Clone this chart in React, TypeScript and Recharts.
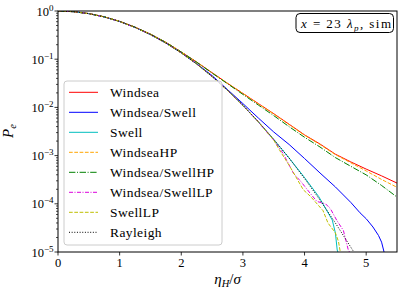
import React from 'react';
import { LineChart, Line, XAxis, YAxis } from 'recharts';

const seriesNames = ['Windsea', 'Windsea/Swell', 'Swell', 'WindseaHP', 'Windsea/SwellHP', 'Windsea/SwellLP', 'SwellLP', 'Rayleigh'];
const seriesColors = ['#ff0000', '#0000ff', '#00bfbf', '#ffa500', '#008000', '#dd00dd', '#bfbf00', '#000000'];
const seriesDash = ['', '', '', '3.7 1.6', '6.4 1.6 1 1.6', '4 1.5 1 1.5', '3.7 1.6', '1 1.65'];

const xTicks = [0, 1, 2, 3, 4, 5];
const yTicks = [
  1e-5, 2e-5, 3e-5, 4e-5, 5e-5, 6e-5, 7e-5, 8e-5, 9e-5,
  1e-4, 2e-4, 3e-4, 4e-4, 5e-4, 6e-4, 7e-4, 8e-4, 9e-4,
  1e-3, 2e-3, 3e-3, 4e-3, 5e-3, 6e-3, 7e-3, 8e-3, 9e-3,
  1e-2, 2e-2, 3e-2, 4e-2, 5e-2, 6e-2, 7e-2, 8e-2, 9e-2,
  1e-1, 2e-1, 3e-1, 4e-1, 5e-1, 6e-1, 7e-1, 8e-1, 9e-1, 1,
];

const windseaX = [0, 0.25, 0.5, 0.75, 1, 1.25, 1.5, 1.75, 2, 2.25, 2.5, 2.75, 3, 3.25, 3.5, 3.75, 4, 4.25, 4.5, 4.75, 5, 5.25, 5.5];
const windseaP = [1, 0.969, 0.883, 0.757, 0.61, 0.462, 0.331, 0.224, 0.141, 0.0871, 0.0525, 0.0316, 0.0195, 0.012, 0.00741, 0.00447, 0.00269, 0.00174, 0.00107, 7.4e-4, 5.25e-4, 3.8e-4, 2.69e-4];

const windseaHPX = [0, 0.25, 0.5, 0.75, 1, 1.25, 1.5, 1.75, 2, 2.25, 2.5, 2.75, 3, 3.25, 3.5, 3.75, 4, 4.25, 4.5, 4.75, 5, 5.25, 5.5];
const windseaHPP = [1, 0.969, 0.883, 0.757, 0.61, 0.462, 0.331, 0.224, 0.141, 0.0871, 0.0525, 0.0316, 0.0194, 0.0119, 0.0073, 0.0044, 0.00265, 0.0017, 0.00105, 7.1e-4, 4.8e-4, 3.2e-4, 2.2e-4];

const windseaSwellHPX = [0, 0.25, 0.5, 0.75, 1, 1.25, 1.5, 1.75, 2, 2.25, 2.5, 2.75, 3, 3.25, 3.5, 3.75, 4, 4.25, 4.5, 4.75, 5, 5.25, 5.5];
const windseaSwellHPP = [1, 0.969, 0.883, 0.757, 0.61, 0.462, 0.331, 0.224, 0.141, 0.0868, 0.0515, 0.031, 0.0186, 0.0112, 0.00676, 0.00398, 0.0024, 0.00151, 9.1e-4, 6.0e-4, 3.98e-4, 2.4e-4, 1.38e-4];

const windseaSwellX = [0, 0.25, 0.5, 0.75, 1, 1.25, 1.5, 1.75, 2, 2.25, 2.5, 2.75, 3, 3.25, 3.5, 3.75, 4, 4.25, 4.5, 4.75, 4.9, 5.0, 5.11, 5.2, 5.25, 5.29];
const windseaSwellP = [1, 0.969, 0.882, 0.755, 0.607, 0.458, 0.325, 0.217, 0.137, 0.081, 0.0457, 0.0234, 0.012, 0.00603, 0.00309, 0.0017, 8.7e-4, 4.37e-4, 2.24e-4, 1.07e-4, 6.5e-5, 4.9e-5, 3.3e-5, 2.2e-5, 1.6e-5, 1.0e-5];

const swellX = [0, 0.25, 0.5, 0.75, 1, 1.25, 1.5, 1.75, 2, 2.25, 2.5, 2.75, 3, 3.25, 3.5, 3.75, 4, 4.23, 4.45, 4.5, 4.53, 4.54];
const swellP = [1, 0.969, 0.882, 0.755, 0.606, 0.457, 0.324, 0.216, 0.135, 0.0794, 0.0437, 0.0226, 0.011, 0.005, 0.00215, 8.9e-4, 3.5e-4, 1.41e-4, 4.6e-5, 2.5e-5, 1.1e-5, 1.0e-5];

const swellLPX = [0, 0.25, 0.5, 0.75, 1, 1.25, 1.5, 1.75, 2, 2.25, 2.5, 2.75, 3, 3.25, 3.5, 3.6, 3.75, 3.85, 3.98, 4.1, 4.3, 4.38, 4.5, 4.55, 4.58];
const swellLPP = [1, 0.969, 0.882, 0.755, 0.606, 0.457, 0.324, 0.216, 0.135, 0.0794, 0.0437, 0.0226, 0.011, 0.005, 0.0021, 0.00126, 6.3e-4, 3.8e-4, 1.95e-4, 1.41e-4, 7.2e-5, 4.0e-5, 2.5e-5, 1.66e-5, 1.0e-5];

const windseaSwellLPX = [0, 0.25, 0.5, 0.75, 1, 1.25, 1.5, 1.75, 2, 2.25, 2.5, 2.75, 3, 3.25, 3.5, 3.65, 3.82, 3.95, 4.09, 4.2, 4.34, 4.42, 4.52, 4.63, 4.71, 4.73];
const windseaSwellLPP = [1, 0.969, 0.882, 0.755, 0.606, 0.457, 0.324, 0.216, 0.135, 0.0794, 0.0437, 0.0226, 0.011, 0.005, 0.0021, 0.00112, 4.3e-4, 2.8e-4, 1.66e-4, 1.12e-4, 1.0e-4, 7.9e-5, 4.6e-5, 2.8e-5, 1.1e-5, 1.0e-5];

const rayleighX = [0, 0.25, 0.5, 0.75, 1, 1.25, 1.5, 1.75, 2, 2.25, 2.5, 2.75, 3, 3.25, 3.5, 3.75, 4, 4.25, 4.5, 4.75, 4.8];
const rayleighP = [1, 0.9692, 0.8825, 0.7548, 0.6065, 0.4578, 0.3247, 0.2163, 0.1353, 0.0796, 0.0439, 0.0228, 0.0111, 0.00508, 0.00219, 8.84e-4, 3.35e-4, 1.2e-4, 4.01e-5, 1.26e-5, 1.0e-5];

const seriesXs = [windseaX, windseaSwellX, swellX, windseaHPX, windseaSwellHPX, windseaSwellLPX, swellLPX, rayleighX];
const seriesPs = [windseaP, windseaSwellP, swellP, windseaHPP, windseaSwellHPP, windseaSwellLPP, swellLPP, rayleighP];

const FONT = '"Liberation Serif", "DejaVu Serif", serif';
const W = 407;
const H = 298;
const PL = 58;
const PT = 11;
const PR = 397;
const PB = 252;

const YTick = (props: any) => {
  const { x, y, payload } = props;
  const v = payload.value;
  const lg = Math.log10(v);
  const e = Math.round(lg);
  const major = Math.abs(lg - e) < 1e-6;
  if (!major) {
    return <line x1={x - 2} x2={x} y1={y} y2={y} stroke="#000" strokeWidth={0.7} />;
  }
  const exp = e === 0 ? '0' : '\u2212' + String(-e);
  return (
    <g>
      <line x1={x - 3.5} x2={x} y1={y} y2={y} stroke="#000" strokeWidth={0.8} />
      <text x={x - 4.5} y={y + 4.5} textAnchor="end" fontFamily={FONT} fontSize={12.5} fill="#000">
        10<tspan dy={-5} fontSize={9}>{exp}</tspan>
      </text>
    </g>
  );
};

const XTick = (props: any) => {
  const { x, y, payload } = props;
  return (
    <g>
      <line x1={x} x2={x} y1={y} y2={y + 3.5} stroke="#000" strokeWidth={0.8} />
      <text x={x} y={y + 15} textAnchor="middle" fontFamily={FONT} fontSize={12.5} fill="#000">
        {payload.value}
      </text>
    </g>
  );
};

export default function App() {
  const datasets = seriesXs.map((xs, i) => xs.map((x, j) => ({ x, y: seriesPs[i][j] })));
  return (
    <div style={{ position: 'fixed', left: 0, top: 0, width: W, height: H, background: '#fff' }}>
      <LineChart width={W} height={H} margin={{ top: PT, right: W - PR, bottom: 0, left: 0 }}>
        <XAxis
          type="number"
          dataKey="x"
          domain={[0, 5.5]}
          ticks={xTicks}
          interval={0}
          allowDataOverflow
          height={H - PB}
          tickSize={0}
          tickMargin={0}
          axisLine={false}
          tickLine={false}
          tick={<XTick />}
        />
        <YAxis
          type="number"
          dataKey="y"
          scale="log"
          domain={[1e-5, 1]}
          ticks={yTicks}
          interval={0}
          allowDataOverflow
          width={PL}
          tickSize={0}
          tickMargin={0}
          axisLine={false}
          tickLine={false}
          tick={<YTick />}
        />
        {datasets.map((d, i) => (
          <Line
            key={seriesNames[i]}
            data={d}
            dataKey="y"
            name={seriesNames[i]}
            type="linear"
            stroke={seriesColors[i]}
            strokeWidth={1}
            strokeDasharray={seriesDash[i] || undefined}
            dot={false}
            activeDot={false}
            isAnimationActive={false}
          />
        ))}
      </LineChart>
      <svg width={W} height={H} style={{ position: 'absolute', left: 0, top: 0, pointerEvents: 'none' }}>
        <rect x={PL} y={PT} width={PR - PL} height={PB - PT} fill="none" stroke="#000" strokeWidth={1} />
        <g>
          <rect x={64} y={81} width={158} height={164} rx={3} fill="#fff" fillOpacity={0.8} stroke="#cccccc" strokeWidth={1} />
          {seriesNames.map((n, i) => {
            const yy = 92.3 + 20 * i;
            return (
              <g key={n}>
                <line x1={69} x2={98} y1={yy} y2={yy} stroke={seriesColors[i]} strokeWidth={1} strokeDasharray={seriesDash[i] || undefined} />
                <text x={110} y={yy + 4.6} fontFamily={FONT} fontSize={13.5} letterSpacing={0.4} fill="#000">{n}</text>
              </g>
            );
          })}
        </g>
        <g>
          <rect x={296} y={13.5} width={97.5} height={19} rx={4} fill="#fff" stroke="#000" strokeWidth={1} />
          <text x={301} y={27.5} fontFamily={FONT} fontSize={13} fill="#000" textLength={90} lengthAdjust="spacing">
            <tspan fontStyle="italic">x</tspan> = 23 <tspan fontStyle="italic">λ</tspan><tspan dy={3} fontSize={9} fontStyle="italic">p</tspan><tspan dy={-3}>,  sim</tspan>
          </text>
        </g>
        <text x={227.5} y={284} textAnchor="middle" fontFamily={FONT} fontSize={15} fill="#000">
          <tspan fontStyle="italic">η</tspan><tspan dy={3} fontSize={10.5} fontStyle="italic">H</tspan><tspan dy={-3}>/</tspan><tspan fontStyle="italic">σ</tspan>
        </text>
        <text transform="translate(13,131) rotate(-90)" textAnchor="middle" fontFamily={FONT} fontSize={15} fill="#000">
          <tspan fontStyle="italic">P</tspan><tspan dy={3} fontSize={10.5} fontStyle="italic">e</tspan>
        </text>
      </svg>
    </div>
  );
}
